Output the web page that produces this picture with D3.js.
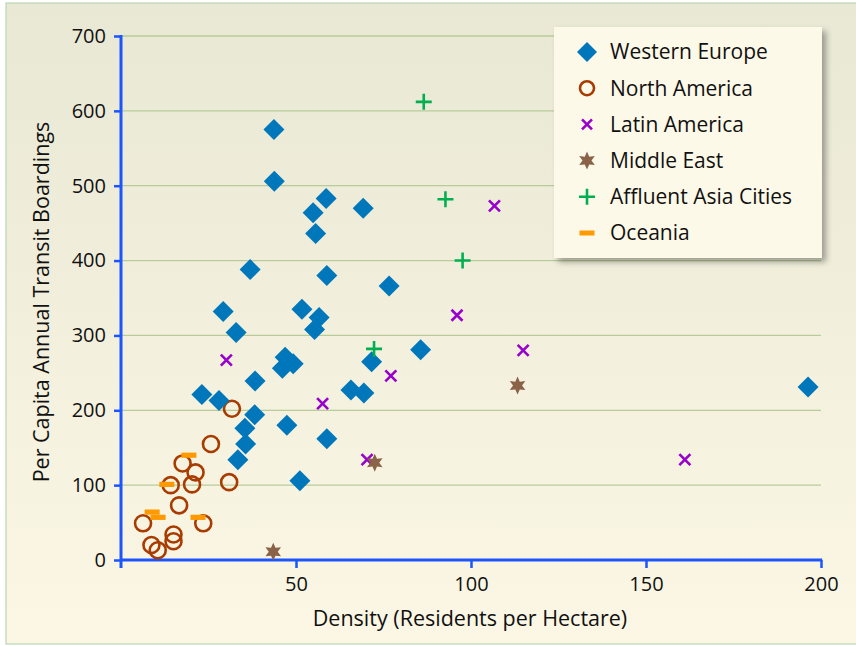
<!DOCTYPE html>
<html><head><meta charset="utf-8">
<script src="https://cdn.jsdelivr.net/npm/d3@7"></script>
<style>body{margin:0;background:#fff}svg{display:block}text{font-family:"Open Sans","Noto Sans",sans-serif}</style>
</head><body>
<svg id="c" width="856" height="646"></svg>
<script>
const seriesNames = ["Western Europe","North America","Latin America","Middle East","Affluent Asia Cities","Oceania"];
const westernEurope = [[43.7,575],[43.8,506],[58.6,483],[54.9,464],[55.6,436],[69.2,470],[36.9,388],[58.8,380],[76.6,366],[29.2,332],[51.7,335],[56.6,324],[55.3,308],[32.9,304],[85.6,281],[71.6,265],[46.9,271],[46.1,256],[49.2,262],[38.3,239],[23.1,221],[28,213],[65.7,227],[69.4,223],[38.2,194],[35.4,176],[35.6,155],[47.4,180],[58.8,162],[33.4,134],[51.1,106],[196.3,231]];
const northAmerica = [[31.7,202],[25.7,155],[17.6,129],[21.3,117],[14.2,100],[20.3,101],[30.9,104],[16.6,73],[6.3,49],[23.5,49],[15,34],[15,25],[8.7,20],[10.5,13]];
const latinAmerica = [[30.1,267],[57.6,209],[106.7,473],[96,327],[114.9,280],[77.1,246],[70.3,134],[161.1,134]];
const middleEast = [[43.5,11],[113.3,233],[72.5,130]];
const affluentAsia = [[86.5,612],[92.7,482],[97.6,400],[72.3,282]];
const oceania = [[19.4,140],[13.1,101],[8.9,64],[10.6,57],[22,57]];
const xTicks = [50,100,150,200];
const yTicks = [0,100,200,300,400,500,600,700];

const svg = d3.select("#c");
const defs = svg.append("defs");
const g1 = defs.append("linearGradient").attr("id","bg").attr("x1",0).attr("y1",0).attr("x2",0).attr("y2",1);
g1.append("stop").attr("offset","0%").attr("stop-color","#e8e8d4");
g1.append("stop").attr("offset","100%").attr("stop-color","#fcf7e5");
const f = defs.append("filter").attr("id","sh").attr("x","-20%").attr("y","-20%").attr("width","150%").attr("height","150%");
f.append("feDropShadow").attr("dx",4).attr("dy",4).attr("stdDeviation",3).attr("flood-color","#000").attr("flood-opacity",0.35);

svg.append("rect").attr("x",6).attr("y",3).attr("width",856).attr("height",641).attr("fill","url(#bg)").attr("stroke","#b9d6b4").attr("stroke-width",1.2);

const x = d3.scaleLinear().domain([0,200]).range([121,821]);
const y = d3.scaleLinear().domain([0,700]).range([560,36]);

svg.append("g").selectAll("line").data(yTicks.filter(d=>d>0)).join("line")
  .attr("x1",x(0)).attr("x2",x(200)).attr("y1",d=>y(d)).attr("y2",d=>y(d))
  .attr("stroke","#b7cc98").attr("stroke-width",1.3);

const blue = "#1a55ff";
const yAx = svg.append("g").attr("transform",`translate(${x(0)},0)`)
  .call(d3.axisLeft(y).tickValues(yTicks).tickSize(7).tickPadding(8));
const xAx = svg.append("g").attr("transform",`translate(0,${y(0)})`)
  .call(d3.axisBottom(x).tickValues(xTicks).tickSize(8).tickPadding(9));
[yAx,xAx].forEach(a=>{
  a.attr("font-size",null).attr("font-family",null);
  a.select(".domain").remove();
  a.selectAll(".tick line").attr("stroke",blue).attr("stroke-width",2.5);
  a.selectAll(".tick text").attr("fill","#111").style("font-size","20px");
});
svg.append("line").attr("x1",x(0)).attr("x2",x(0)).attr("y1",y(700)-1).attr("y2",y(0)+8).attr("stroke",blue).attr("stroke-width",3);
svg.append("line").attr("x1",x(0)).attr("x2",x(200)+1.2).attr("y1",y(0)).attr("y2",y(0)).attr("stroke",blue).attr("stroke-width",3);

svg.append("text").attr("x",470).attr("y",626).attr("text-anchor","middle").attr("fill","#111").style("font-size","21.5px").text("Density (Residents per Hectare)");
svg.append("text").attr("transform","translate(49,302) rotate(-90)").attr("text-anchor","middle").attr("fill","#111").style("font-size","21.5px").text("Per Capita Annual Transit Boardings");

const colors = {we:"#0077bb",na:"#a83c00",la:"#9900cc",me:"#8a6248",aa:"#00b050",oc:"#ff9900"};
const starPath = (r)=>{const pts=[];for(let i=0;i<12;i++){const a=-Math.PI/2+i*Math.PI/6;const rr=i%2?r*0.5:r;pts.push([rr*Math.cos(a),rr*Math.sin(a)]);}return "M"+pts.map(p=>p.join(",")).join("L")+"Z";};
const drawers = [
  (sel)=>sel.append("path").attr("d","M0,-10.5L10.5,0L0,10.5L-10.5,0Z").attr("fill",colors.we),
  (sel)=>sel.append("circle").attr("r",8).attr("fill","none").attr("stroke",colors.na).attr("stroke-width",2.6),
  (sel)=>sel.append("path").attr("d","M-5.5,-5.5L5.5,5.5M-5.5,5.5L5.5,-5.5").attr("stroke",colors.la).attr("stroke-width",2.6).attr("fill","none"),
  (sel)=>sel.append("path").attr("d",starPath(9)).attr("fill",colors.me),
  (sel)=>sel.append("path").attr("d","M-8,0L8,0M0,-8L0,8").attr("stroke",colors.aa).attr("stroke-width",2.6).attr("fill","none"),
  (sel)=>sel.append("rect").attr("x",-7.5).attr("y",-2.6).attr("width",15).attr("height",5.2).attr("fill",colors.oc)
];
const allSeries = [westernEurope,northAmerica,latinAmerica,middleEast,affluentAsia,oceania];
const order = [1,5,0,2,3,4];
order.forEach(si=>{
  const gs = svg.append("g");
  allSeries[si].forEach(d=>{
    const m = gs.append("g").attr("transform",`translate(${x(d[0])},${y(d[1])})`);
    drawers[si](m);
  });
});

const lg = svg.append("g");
lg.append("rect").attr("x",554).attr("y",27).attr("width",268).attr("height",231).attr("fill","#fdf9e8").attr("filter","url(#sh)");
seriesNames.forEach((n,i)=>{
  const yy = 52 + i*36.2;
  const m = lg.append("g").attr("transform",`translate(587,${yy})`);
  if(i===0) m.append("path").attr("d","M0,-10L10,0L0,10L-10,0Z").attr("fill",colors.we);
  else if(i===1) m.append("circle").attr("r",7).attr("fill","none").attr("stroke",colors.na).attr("stroke-width",2.6);
  else if(i===2) m.append("path").attr("d","M-5,-5L5,5M-5,5L5,-5").attr("stroke",colors.la).attr("stroke-width",2.6);
  else if(i===3) m.append("path").attr("d",starPath(9)).attr("fill",colors.me);
  else if(i===4) m.append("path").attr("d","M-8,0L8,0M0,-8L0,8").attr("stroke",colors.aa).attr("stroke-width",2.6);
  else m.append("rect").attr("x",-7.5).attr("y",-2.5).attr("width",15).attr("height",5).attr("fill",colors.oc);
  lg.append("text").attr("x",610).attr("y",yy).attr("dy","0.35em").attr("fill","#111").style("font-size","21px").text(n);
});
</script>
</body></html>
